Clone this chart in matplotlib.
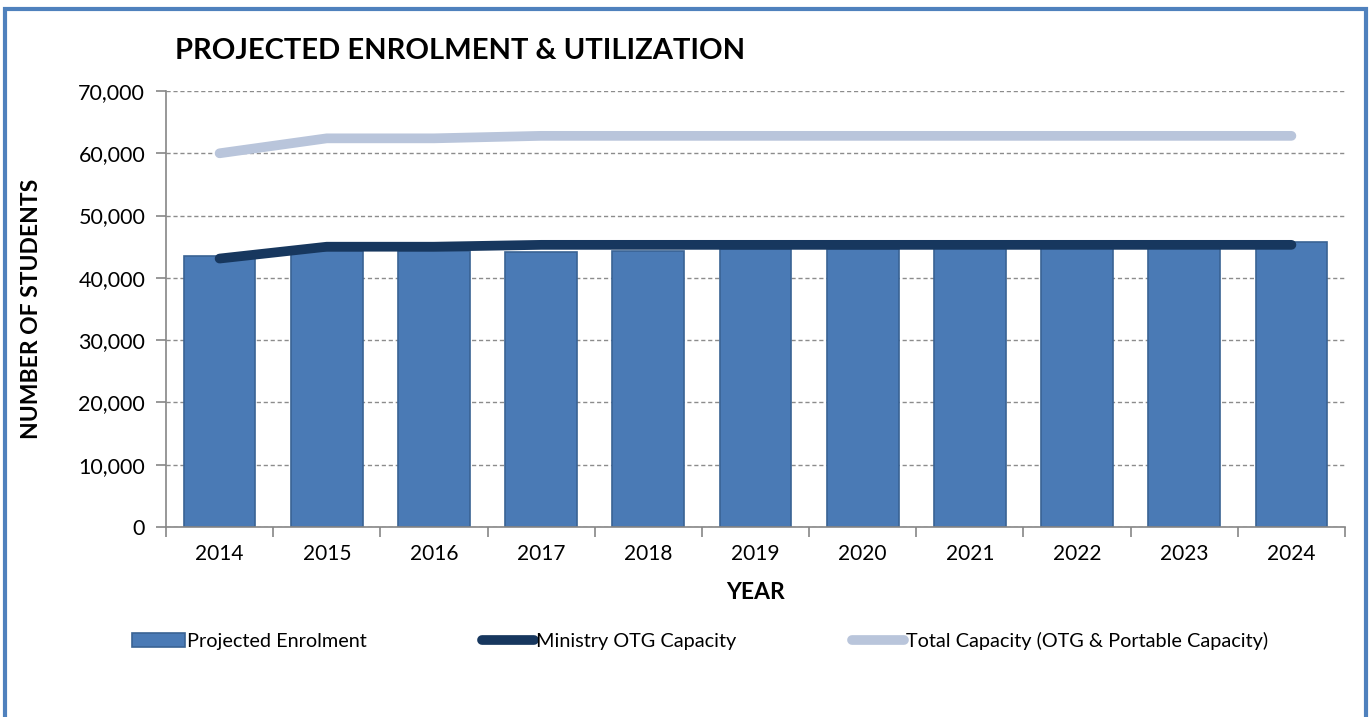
import matplotlib.pyplot as plt
import numpy as np
from matplotlib.patches import Rectangle

plt.rcParams['font.family'] = ['Lato', 'DejaVu Sans']

years = ["2014", "2015", "2016", "2017", "2018", "2019", "2020", "2021", "2022", "2023", "2024"]
enrolment = [43500, 44300, 44300, 44200, 44300, 44600, 44700, 44800, 44900, 45000, 45750]
otg_capacity = [43100, 45000, 45000, 45300, 45300, 45300, 45300, 45300, 45300, 45300, 45300]
total_capacity = [60000, 62400, 62400, 62800, 62800, 62800, 62800, 62800, 62800, 62800, 62800]

bar_color = "#4A7AB5"
bar_edge = "#3A6394"
otg_color = "#17375E"
total_color = "#B9C5DB"

fig = plt.figure(figsize=(13.72, 7.17), dpi=100)
ax = fig.add_axes([166/1372, 1 - 527/717, (1345-166)/1372, (527-91)/717])

x = np.arange(len(years))
bars = ax.bar(x, enrolment, width=0.67, color=bar_color, edgecolor=bar_edge, linewidth=1.2,
              label="Projected Enrolment", zorder=2)
l1, = ax.plot(x, otg_capacity, color=otg_color, linewidth=7, solid_capstyle='round',
              label="Ministry OTG Capacity", zorder=3)
l2, = ax.plot(x, total_capacity, color=total_color, linewidth=7, solid_capstyle='round',
              label="Total Capacity (OTG & Portable Capacity)", zorder=3)

ax.set_xlim(-0.5, len(years) - 0.5)
ax.set_ylim(0, 70000)
ax.set_yticks(range(0, 70001, 10000))
ax.set_yticklabels(["{:,}".format(v) for v in range(0, 70001, 10000)], fontsize=15.5)
ax.yaxis.grid(True, linestyle=(0, (3, 2)), color="#8C8C8C", linewidth=1.0, zorder=0)
ax.set_axisbelow(True)

# category labels centred, ticks between categories
ax.set_xticks(x)
ax.set_xticklabels(years, fontsize=15)
ax.tick_params(axis='x', length=0, pad=12)
ax.set_xticks(np.arange(-0.5, len(years)), minor=True)
ax.tick_params(axis='x', which='minor', length=7, color="#868686", width=1.2)
ax.tick_params(axis='y', length=7, color="#868686", width=1.2, pad=8)

for s in ["top", "right"]:
    ax.spines[s].set_visible(False)
for s in ["left", "bottom"]:
    ax.spines[s].set_color("#868686")
    ax.spines[s].set_linewidth(1.2)

ax.set_xlabel("YEAR", fontsize=16.5, fontweight='bold', labelpad=13)
ax.set_ylabel("NUMBER OF STUDENTS", fontsize=16.5, fontweight='bold')
ax.yaxis.set_label_coords((42 - 166) / 1179, 0.5)

fig.text(175/1372, 1 - 51/717, "PROJECTED ENROLMENT & UTILIZATION", fontsize=21,
         fontweight='bold', va='center', ha='left')

fig.legend(handles=[bars, l1, l2], loc='center left',
           bbox_to_anchor=(124/1372, 1 - 641/717), ncol=3,
           frameon=False, fontsize=14.3, handlelength=2.65, handletextpad=0.1,
           columnspacing=5.8, borderaxespad=0)

# outer chart border
fig.patches.append(Rectangle((5/1372, -0.05), (1366-5)/1372, 1.05 - 9/717,
                             transform=fig.transFigure, fill=False,
                             edgecolor="#4F81BD", linewidth=3))

fig.savefig("out.png", dpi=100)
